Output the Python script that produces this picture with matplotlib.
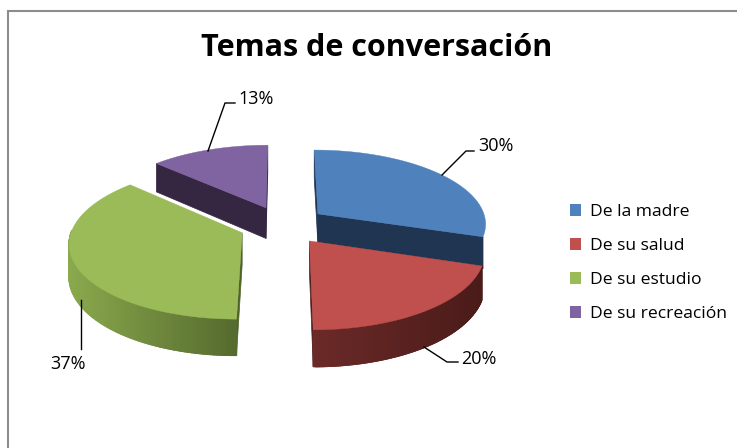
import numpy as np
import matplotlib
matplotlib.use('Agg')
import matplotlib.pyplot as plt
from matplotlib.patches import Patch
from matplotlib.colors import to_rgb

# datos
categorias = ['De la madre', 'De su salud', 'De su estudio', 'De su recreación']
valores = [30, 20, 37, 13]
etiquetas = ['30%', '20%', '37%', '13%']

colores = ['#4f81bd', '#c0504d', '#9bbb59', '#8064a2']
corte = ['#1f3552', '#4d1f1d', '#4f6228', '#352741']
# borde exterior: (color a la izquierda, color a la derecha), None si no se ve
lado = [None, ('#6b2a28', '#4a1b19'), ('#8aa94d', '#566b2e'), None]

# geometria de la tarta en pixeles
cx, cy = 283, 225
rx, ry = 169, 74
k = 0.12
explode = 0.26
prof = 31.5


def proy(X, Y, z=0):
    s = 1 / (1 + k * Y)
    return cx + rx * X * s, cy - ry * Y * s + z * prof * s


fig = plt.figure(figsize=(7.37, 4.48), dpi=100)
ax = fig.add_axes([0, 0, 1, 1])
ax.set_xlim(0, 737)
ax.set_ylim(448, 0)
ax.axis('off')

# marco del grafico
ax.plot([8.5, 8.5, 737], [448, 11, 11], color='#8c8c8c', lw=1.5, solid_joinstyle='miter')

# angulos en sentido horario desde arriba
fin = np.cumsum(valores) / sum(valores) * 2 * np.pi
ini = np.r_[0, fin[:-1]]

for i in [3, 0, 2, 1]:  # de atras hacia delante
    med = (ini[i] + fin[i]) / 2
    ox, oy = explode * np.sin(med), explode * np.cos(med)
    t = np.linspace(ini[i], fin[i], 120)
    X = ox + np.sin(t)
    Y = oy + np.cos(t)

    # caras del corte, solo las que miran al frente
    for a, normal in [(ini[i], ini[i] - np.pi / 2), (fin[i], fin[i] + np.pi / 2)]:
        if np.cos(normal) > 1e-6:
            continue
        px = np.array([ox, ox + np.sin(a)])
        py = np.array([oy, oy + np.cos(a)])
        x0, y0 = proy(px, py)
        x1, y1 = proy(px, py, 1)
        ax.fill(np.r_[x0, x1[::-1]], np.r_[y0, y1[::-1]], color=corte[i], lw=0.5)

    x0, y0 = proy(X, Y)
    x1, y1 = proy(X, Y, 1)

    # lado exterior con degradado
    if lado[i] is not None:
        c_izq, c_der = np.array(to_rgb(lado[i][0])), np.array(to_rgb(lado[i][1]))
        xmin, xmax = x0.min(), x0.max()
        for j in range(len(t) - 2):
            if np.cos(t[j]) > 0:
                continue  # parte trasera, no se ve
            f = (x0[j] - xmin) / (xmax - xmin)
            ax.fill([x0[j], x0[j + 2], x1[j + 2], x1[j]], [y0[j], y0[j + 2], y1[j + 2], y1[j]],
                    color=c_izq + (c_der - c_izq) * f, lw=1)

    # cara superior
    ax0, ay0 = proy(ox, oy)
    ax.fill(np.r_[ax0, x0], np.r_[ay0, y0], color=colores[i], lw=0.3)

# lineas guia
guias = [
    ([442, 466, 474], [175, 151, 151]),
    ([424, 447, 458], [347, 362, 362]),
    ([81, 81], [300, 349]),
    ([208, 225, 235], [151, 103, 103]),
]
pos_etq = [(478, 146), (461, 359), (50, 364), (238, 99)]
for g, p, e in zip(guias, pos_etq, etiquetas):
    ax.plot(g[0], g[1], color='black', lw=1)
    ax.text(p[0], p[1], e, fontsize=13, family='Open Sans', va='center', ha='left', color='black')

ax.text(377, 48, 'Temas de conversación', fontsize=22, family='Open Sans', fontweight='bold',
        ha='center', va='center', color='black')

manijas = [Patch(facecolor=c, edgecolor='none') for c in colores]
ax.legend(manijas, categorias, loc='upper left', bbox_to_anchor=(563, 197), bbox_transform=ax.transData,
          frameon=False, prop={'family': 'Open Sans', 'size': 12.6}, handlelength=0.62, handleheight=0.62,
          handletextpad=0.5, labelspacing=1.03, borderpad=0, borderaxespad=0.4)

plt.savefig('out.png', dpi=100)
